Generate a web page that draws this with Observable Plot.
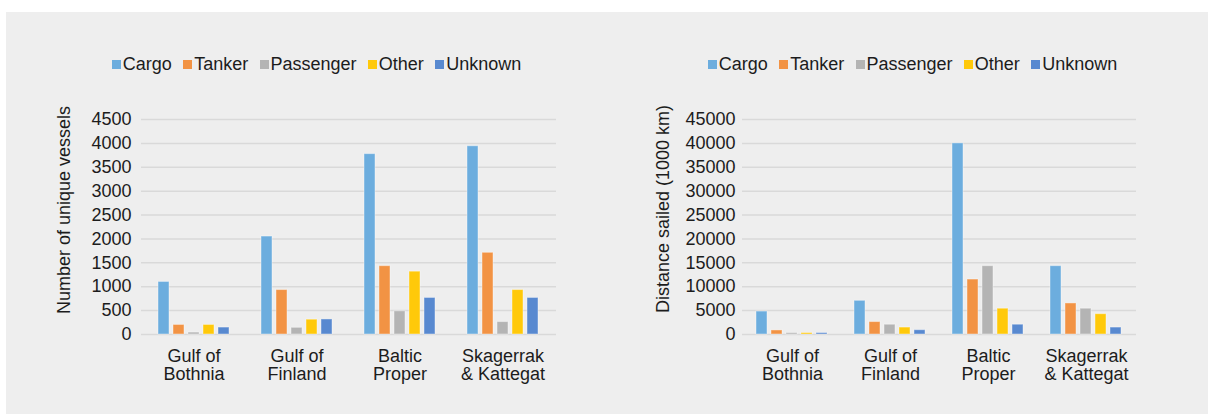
<!DOCTYPE html>
<html>
<head>
<meta charset="utf-8">
<script src="https://cdn.jsdelivr.net/npm/d3@7"></script>
<script src="https://cdn.jsdelivr.net/npm/@observablehq/plot@0.6"></script>
<style>
  html, body { margin: 0; padding: 0; background: #ffffff; }
  #page { position: relative; width: 1208px; height: 414px; overflow: hidden; font-family: "Liberation Sans", Arial, sans-serif; color: #1c1c1c; }
  #panel { position: absolute; left: 6px; top: 12px; right: 0; bottom: 0; background: #eeeeee; }
  .legend { position: absolute; top: 54px; display: flex; align-items: center; font-size: 18px; line-height: 20px; white-space: nowrap; }
  .legend .item { display: flex; align-items: center; margin-right: 11.5px; }
  .legend .item:last-child { margin-right: 0; }
  .legend .sw { width: 9px; height: 9px; margin-right: 1.8px; }
  .chart { position: absolute; top: 90px; height: 310px; }
  .chart svg { position: absolute; left: 0; top: 0; max-width: none; }
</style>
</head>
<body>
<div id="page">
  <div id="panel"></div>
  <div id="legend1" class="legend" style="left:112px"></div>
  <div id="legend2" class="legend" style="left:708px"></div>
  <div id="chart1" class="chart" style="left:0px; width:600px"></div>
  <div id="chart2" class="chart" style="left:600px; width:608px"></div>
</div>
<script>
// ---- data ----
const regions = ["Gulf of\nBothnia", "Gulf of\nFinland", "Baltic\nProper", "Skagerrak\n& Kattegat"];
const types = ["Cargo", "Tanker", "Passenger", "Other", "Unknown"];
const typeColors = ["#6cadde", "#f29344", "#b4b4b4", "#ffc90a", "#5889d0"];

// Number of unique vessels (per region, in order of `regions`)
const vesselsCargo     = [1100, 2050, 3775, 3940];
const vesselsTanker    = [200, 930, 1430, 1710];
const vesselsPassenger = [40, 140, 485, 260];
const vesselsOther     = [200, 310, 1315, 930];
const vesselsUnknown   = [145, 315, 765, 765];

// Distance sailed (1000 km)
const distCargo     = [4800, 7050, 40000, 14300];
const distTanker    = [850, 2600, 11500, 6500];
const distPassenger = [300, 2050, 14300, 5400];
const distOther     = [300, 1450, 5400, 4250];
const distUnknown   = [300, 900, 2050, 1450];

const vesselTicks = [0, 500, 1000, 1500, 2000, 2500, 3000, 3500, 4000, 4500];
const distTicks = [0, 5000, 10000, 15000, 20000, 25000, 30000, 35000, 40000, 45000];

const vesselsTitle = "Number of unique vessels";
const distTitle = "Distance sailed (1000 km)";

// ---- build tables ----
function buildRows(series) {
  return regions.flatMap((r, i) => types.map((t, j) => ({region: r, type: t, value: series[j][i]})));
}
const vesselRows = buildRows([vesselsCargo, vesselsTanker, vesselsPassenger, vesselsOther, vesselsUnknown]);
const distRows = buildRows([distCargo, distTanker, distPassenger, distOther, distUnknown]);

function makeLegend(el) {
  types.forEach((t, i) => {
    const item = document.createElement("div");
    item.className = "item";
    const sw = document.createElement("div");
    sw.className = "sw";
    sw.style.background = typeColors[i];
    const label = document.createElement("span");
    label.textContent = t;
    item.appendChild(sw);
    item.appendChild(label);
    el.appendChild(item);
  });
}

const baseStyle = {background: "transparent", fontFamily: "'Liberation Sans', Arial, sans-serif", fontSize: "18px", color: "#1c1c1c", overflow: "visible"};

function makeChart(el, {rows, ticks, title, width, marginLeft, marginRight, tickPadding, dx, dy}) {
  const common = {width, height: 310, marginTop: 29, marginBottom: 66, marginLeft, marginRight, style: baseStyle};
  const yDomain = [ticks[0], ticks[ticks.length - 1]];
  // background layer: grid, y axis, y title (unfaceted so grid spans the frame)
  const back = Plot.plot({
    ...common,
    y: {domain: yDomain, label: null},
    marks: [
      Plot.ruleY(ticks, {stroke: "#d9d9d9", strokeWidth: 1.5}),
      Plot.axisY(ticks, {tickSize: 0, tickPadding, tickFormat: (d) => String(d), fontSize: 18, label: null}),
      Plot.text([title], {frameAnchor: "left", textAnchor: "middle", rotate: -90, dx, dy, fontSize: 18, fill: "currentColor"})
    ]
  });
  // foreground layer: grouped bars, region labels
  const front = Plot.plot({
    ...common,
    fx: {domain: regions, paddingInner: 0.27, paddingOuter: 0.135, label: null},
    x: {domain: types, paddingInner: 0.24, paddingOuter: 0, axis: null},
    y: {domain: yDomain, axis: null},
    color: {domain: types, range: typeColors},
    marks: [
      Plot.barY(rows, {fx: "region", x: "type", y: "value", fill: "type", stroke: "#ffffff", strokeOpacity: 0.4, strokeWidth: 1}),
      Plot.axisFx({anchor: "bottom", tickSize: 0, tickPadding: 14, fontSize: 18, lineHeight: 1.02, label: null})
    ]
  });
  el.appendChild(back);
  el.appendChild(front);
}

makeLegend(document.getElementById("legend1"));
makeLegend(document.getElementById("legend2"));

makeChart(document.getElementById("chart1"), {
  rows: vesselRows, ticks: vesselTicks, title: vesselsTitle,
  width: 600, marginLeft: 141, marginRight: 44, tickPadding: 10, dx: -77, dy: -17
});
makeChart(document.getElementById("chart2"), {
  rows: distRows, ticks: distTicks, title: distTitle,
  width: 608, marginLeft: 142, marginRight: 72, tickPadding: 7, dx: -79, dy: -18
});
</script>
</body>
</html>
